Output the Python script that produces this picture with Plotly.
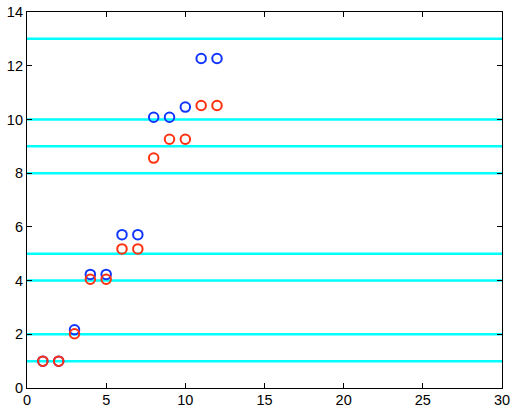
import plotly.graph_objects as go

x_vals = [1, 2, 3, 4, 5, 6, 7, 8, 9, 10, 11, 12]
blue_vals = [1.0, 1.0, 2.17, 4.23, 4.23, 5.71, 5.71, 10.08, 10.08, 10.46, 12.27, 12.27]
red_vals = [1.0, 1.0, 2.02, 4.05, 4.05, 5.18, 5.18, 8.56, 9.26, 9.26, 10.52, 10.52]
hline_levels = [1, 2, 4, 5, 8, 9, 10, 13]
x_range = [0, 30]
y_range = [0, 14]

fig = go.Figure()
for lvl in hline_levels:
    fig.add_trace(go.Scatter(x=x_range, y=[lvl, lvl], mode="lines",
                             line=dict(color="#00ffff", width=2.5),
                             showlegend=False, hoverinfo="skip"))

fig.add_trace(go.Scatter(x=x_vals, y=blue_vals, mode="markers",
                         marker=dict(symbol="circle-open", size=9.5, color="#1035ff",
                                     line=dict(width=2, color="#1035ff")),
                         showlegend=False))
fig.add_trace(go.Scatter(x=x_vals, y=red_vals, mode="markers",
                         marker=dict(symbol="circle-open", size=9.5, color="#ff3010",
                                     line=dict(width=2, color="#ff3010")),
                         showlegend=False))

axis_common = dict(showgrid=False, zeroline=False, showline=True, linecolor="black",
                   linewidth=1.2, mirror="ticks", ticks="inside", ticklen=5,
                   tickcolor="black", automargin=False,
                   tickfont=dict(family="Liberation Sans, Arial", size=14.5, color="black"))
fig.update_xaxes(range=x_range, tickvals=[0, 5, 10, 15, 20, 25, 30],
                 ticklabelstandoff=-2, **axis_common)
fig.update_yaxes(range=y_range, tickvals=[0, 2, 4, 6, 8, 10, 12, 14], **axis_common)

fig.update_layout(width=513, height=408, margin=dict(l=27, r=11, t=12, b=20),
                  plot_bgcolor="white", paper_bgcolor="white")
fig.write_html("out.html", config={"displayModeBar": False},
               post_script="document.body.style.margin='0';document.body.style.overflow='hidden';")
